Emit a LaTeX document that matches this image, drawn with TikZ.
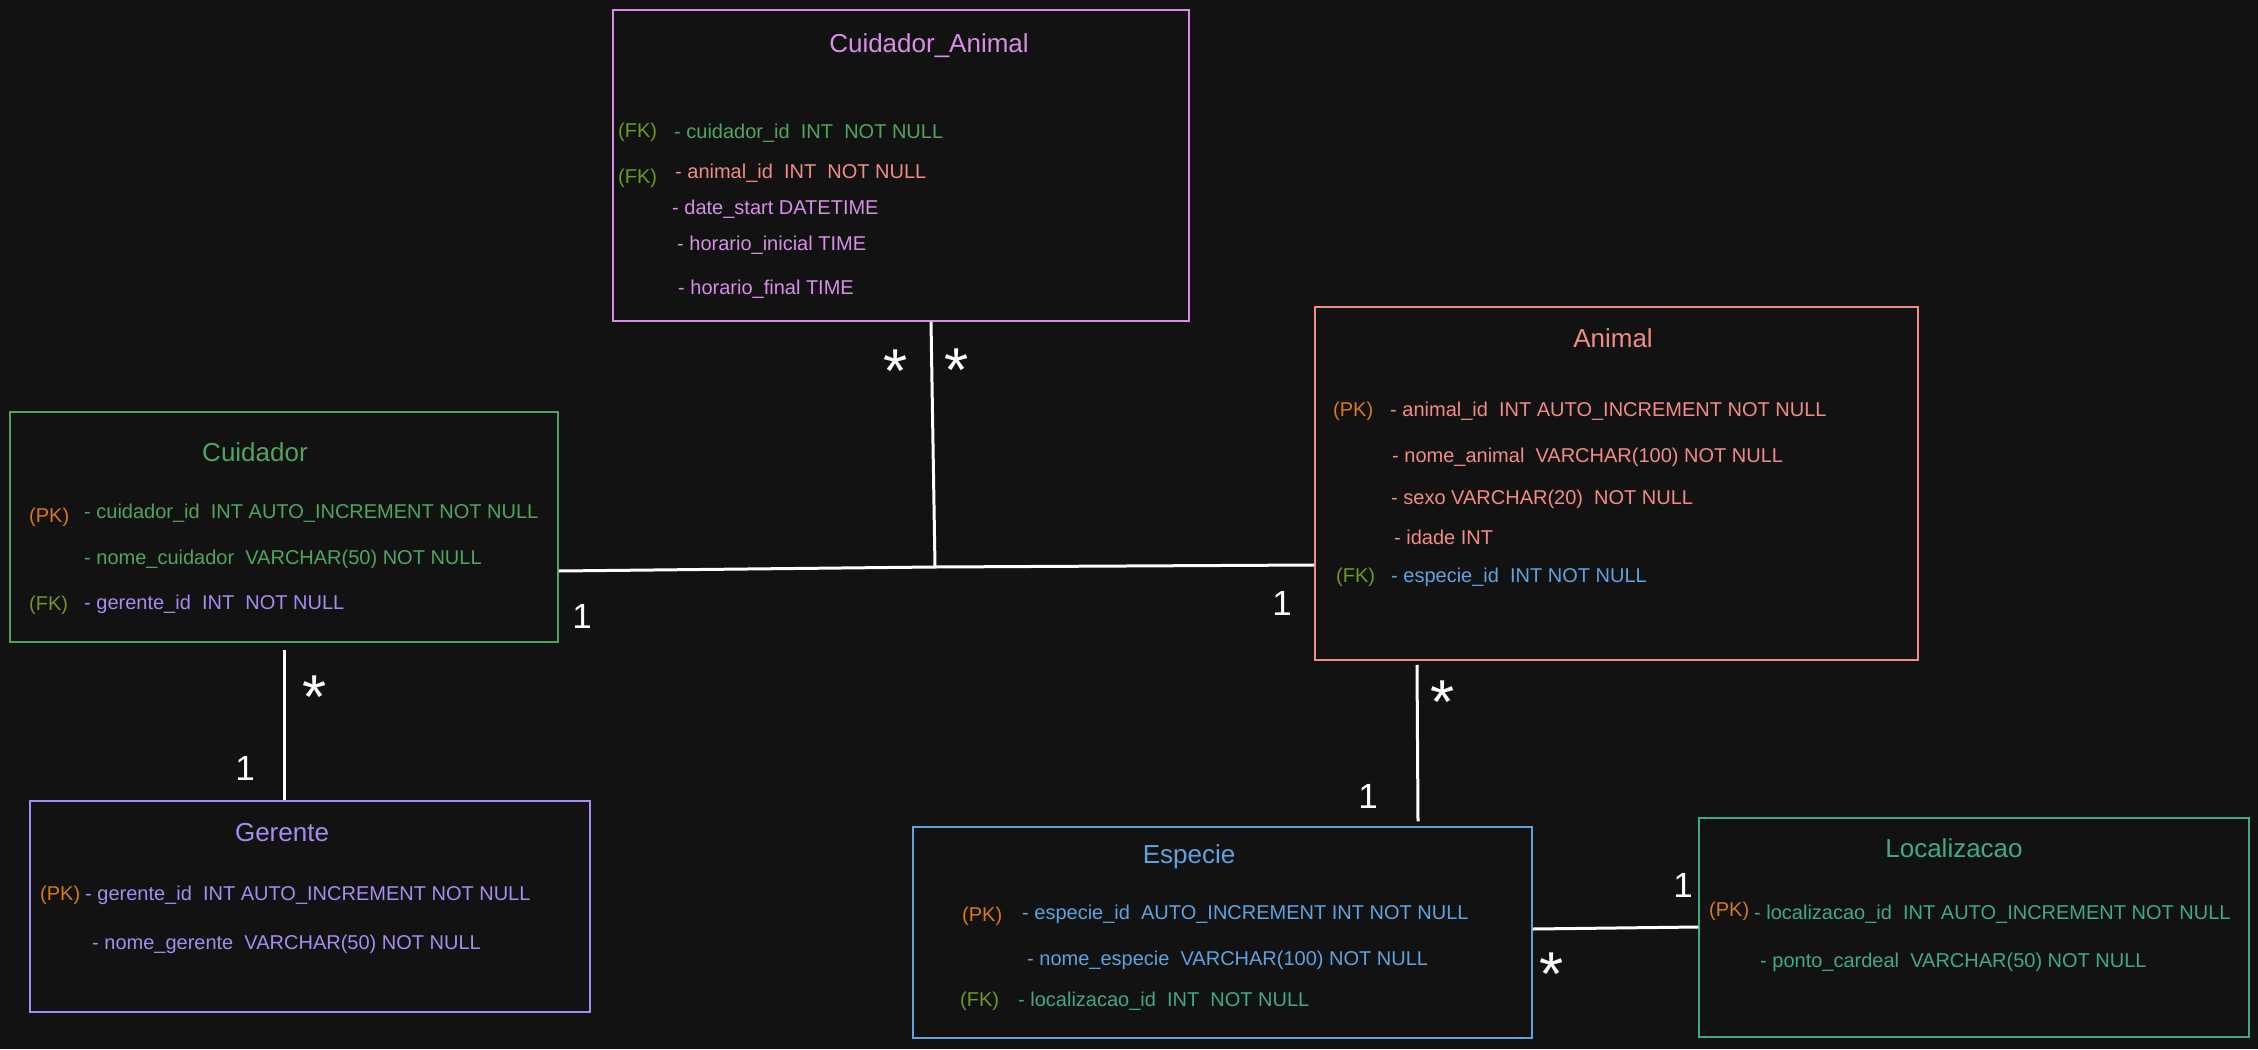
\documentclass[tikz,border=0pt]{standalone}
\usepackage{fontspec}
\setmainfont{Liberation Sans}
\usepackage{xcolor}
\usepackage{tikz}

\definecolor{bgcol}{HTML}{121212}
\definecolor{colCA}{HTML}{D78FE6}
\definecolor{colAnimal}{HTML}{F28B86}
\definecolor{colCuidador}{HTML}{4FA55E}
\definecolor{colGerente}{HTML}{A68CF0}
\definecolor{colEspecie}{HTML}{5EA2E0}
\definecolor{colLocal}{HTML}{3DAA88}
\definecolor{colPK}{HTML}{D97A14}
\definecolor{colFK}{HTML}{6E9A1E}

\tikzset{
  tablebox/.style={draw=#1, line width=1.5pt, inner sep=0pt},
  tabtitle/.style={text=#1, font=\fontsize{26}{30}\selectfont, anchor=base, inner sep=0pt},
  field/.style={text=#1, font=\fontsize{20}{24}\selectfont, anchor=base west, inner sep=0pt},
  link/.style={draw=white, line width=3pt},
  card/.style={text=white, font=\fontsize{35}{40}\selectfont, inner sep=0pt},
  many/.style={text=white, font=\fontsize{62}{66}\selectfont, anchor=base, inner sep=0pt},
}

\begin{document}
\begin{tikzpicture}[x=1pt,y=-1pt]
  \fill[bgcol] (0,0) rectangle (2258,1049);
  \useasboundingbox (0,0) rectangle (2258,1049);

  % tables
  \node[tablebox=colCA, minimum width=576, minimum height=311] (cuidadoranimal) at (901,165.5) {};
  \node[tablebox=colAnimal, minimum width=603, minimum height=353] (animal) at (1616.5,483.5) {};
  \node[tablebox=colCuidador, minimum width=548, minimum height=230] (cuidador) at (284,527) {};
  \node[tablebox=colGerente, minimum width=560, minimum height=211] (gerente) at (310,906.5) {};
  \node[tablebox=colEspecie, minimum width=619, minimum height=211] (especie) at (1222.5,932.5) {};
  \node[tablebox=colLocal, minimum width=550, minimum height=219] (localizacao) at (1974,927.5) {};

  % Cuidador_Animal
  \node[tabtitle=colCA] (catitle) at (929,52.5) {Cuidador\_Animal};
  \node[field=colFK] (cafk1) at (618,137) {(FK)};
  \node[field=colCuidador] (ca1) at (674,138) {- cuidador\_id~ INT~ NOT NULL};
  \node[field=colFK] (cafk2) at (618,183) {(FK)};
  \node[field=colAnimal] (ca2) at (675,178) {- animal\_id~ INT~ NOT NULL};
  \node[field=colCA] (ca3) at (672,214) {- date\_start DATETIME};
  \node[field=colCA] (ca4) at (677,250) {- horario\_inicial TIME};
  \node[field=colCA] (ca5) at (678,294) {- horario\_final TIME};

  % Animal
  \node[tabtitle=colAnimal] (antitle) at (1613,347.5) {Animal};
  \node[field=colPK] (anpk) at (1333,416) {(PK)};
  \node[field=colAnimal] (an1) at (1390,416) {- animal\_id~ INT AUTO\_INCREMENT NOT NULL};
  \node[field=colAnimal] (an2) at (1392,462) {- nome\_animal~ VARCHAR(100) NOT NULL};
  \node[field=colAnimal] (an3) at (1391,504) {- sexo VARCHAR(20)~ NOT NULL};
  \node[field=colAnimal] (an4) at (1394,544) {- idade INT};
  \node[field=colFK] (anfk) at (1336,582) {(FK)};
  \node[field=colEspecie] (an5) at (1391,582) {- especie\_id~ INT NOT NULL};

  % Cuidador
  \node[tabtitle=colCuidador] (cutitle) at (255,461.5) {Cuidador};
  \node[field=colPK] (cupk) at (29,522) {(PK)};
  \node[field=colCuidador] (cu1) at (84,518) {- cuidador\_id~ INT AUTO\_INCREMENT NOT NULL};
  \node[field=colCuidador] (cu2) at (84,564) {- nome\_cuidador~ VARCHAR(50) NOT NULL};
  \node[field=colFK] (cufk) at (29,610) {(FK)};
  \node[field=colGerente] (cu3) at (84,609) {- gerente\_id~ INT~ NOT NULL};

  % Gerente
  \node[tabtitle=colGerente] (getitle) at (282,841.5) {Gerente};
  \node[field=colPK] (gepk) at (40,900) {(PK)};
  \node[field=colGerente] (ge1) at (85,900) {- gerente\_id~ INT AUTO\_INCREMENT NOT NULL};
  \node[field=colGerente] (ge2) at (92,949) {- nome\_gerente~ VARCHAR(50) NOT NULL};

  % Especie
  \node[tabtitle=colEspecie] (estitle) at (1189,863.5) {Especie};
  \node[field=colPK] (espk) at (962,921) {(PK)};
  \node[field=colEspecie] (es1) at (1022,919) {- especie\_id~ AUTO\_INCREMENT INT NOT NULL};
  \node[field=colEspecie] (es2) at (1027,965) {- nome\_especie~ VARCHAR(100) NOT NULL};
  \node[field=colFK] (esfk) at (960,1006) {(FK)};
  \node[field=colLocal] (es3) at (1018,1006) {- localizacao\_id~ INT~ NOT NULL};

  % Localizacao
  \node[tabtitle=colLocal] (lotitle) at (1954,857.5) {Localizacao};
  \node[field=colPK] (lopk) at (1709,916) {(PK)};
  \node[field=colLocal] (lo1) at (1754,919) {- localizacao\_id~ INT AUTO\_INCREMENT NOT NULL};
  \node[field=colLocal] (lo2) at (1760,967) {- ponto\_cardeal~ VARCHAR(50) NOT NULL};

  % relations
  \coordinate (meet) at (935,567);
  \draw[link] (cuidador.east |- 0,571) -- (meet) -- (animal.west |- 0,565);
  \draw[link] ([xshift=30pt]cuidadoranimal.south) -- (meet);
  \draw[link] ([yshift=-7pt]cuidador.south) -- (gerente.north -| cuidador.south);
  \draw[link] ([yshift=-4pt]animal.south -| 1417,0) -- ([yshift=5pt]especie.north -| 1418,0);
  \draw[link] (especie.east |- 0,929) -- (localizacao.west |- 0,927);

  % cardinalities
  \foreach \x/\y [count=\i] in {582/616, 1282/603, 245/768, 1368/796, 1683/885}
    \node[card] (one\i) at (\x,\y) {1};
  \foreach \x/\y [count=\i] in {896/392, 957/391, 315/718, 1443/723, 1552/995}
    \node[many] (star\i) at (\x,\y) {*};
\end{tikzpicture}
\end{document}
